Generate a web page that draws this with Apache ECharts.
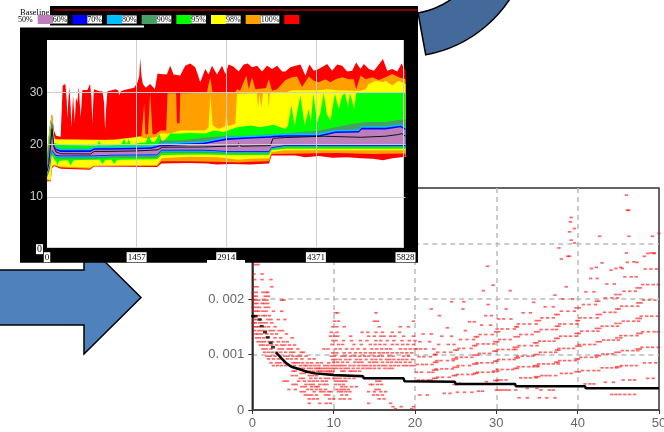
<!DOCTYPE html>
<html><head><meta charset="utf-8">
<style>html,body{margin:0;padding:0;background:#fff}#c{width:664px;height:432px}</style>
<script src="https://cdn.jsdelivr.net/npm/echarts@6/dist/echarts.min.js"></script>
</head><body><div id="c"></div>
<script>
const bandLevels=['50%','60%','70%','80%','90%','95%','98%','100%'];
const areaXTicks=['0','1457','2914','4371','5828'];
const areaYTicks=['0','10','20','30',''];
const scatterXTicks=['0','10','20','30','40','50'];
const scatterYTicks=['0','0. 001','0. 002','0. 003','0. 004'];

const up100=[[0,18.5],[49,24],[81,25.9],[114,22.7],[146,21.7],[222,21.5],[233,21.7],[255,31.3],[299,31.6],[320,28.5],[331,25],[345,28],[364,31],[385,27],[396,23.3],[423,29.4],[451,24.3],[472,29],[494,28],[516,31.1],[532,28],[548,25.2],[575,30.45],[657,30.45],[700,31.6],[722,29],[738,24],[755,29],[765,30.6],[847,30.2],[901,30.2],[928,28],[945,22.7],[961,27],[983,30.2],[1118,30.6],[1160,30.3],[1173,29.4],[1200,30.2],[1254,30.45],[1417,30.85],[1471,31.9],[1499,33],[1515,36.5],[1537,33],[1558,31.6],[1607,30.85],[1678,31.6],[1754,30.6],[1797,33.6],[1840,33.5],[1949,33.4],[2003,35.1],[2057,33.4],[2166,33.2],[2247,35.1],[2329,35.5],[2410,34.8],[2492,31.9],[2573,34.45],[2627,33.4],[2682,35.1],[2763,33.4],[2845,35.1],[2899,33.5],[2953,35.3],[3035,34.9],[3116,34],[3198,35.3],[3263,35.5],[3333,34.8],[3415,35.1],[3496,34],[3578,35.1],[3659,34.45],[3741,35.1],[3822,34],[3876,34],[3956,34.8],[4038,35.1],[4119,35.3],[4201,33.2],[4266,35.3],[4337,34.1],[4418,34.45],[4554,35.4],[4635,34.1],[4717,35.3],[4798,35.1],[4880,34],[4961,34.1],[5026,35.7],[5097,34.45],[5151,35.4],[5233,34.45],[5314,34.1],[5395,35.3],[5461,36.35],[5531,34.1],[5613,34.45],[5694,34],[5765,35.5],[5828,34.1]];
const up98=[[0,18.4],[49,23.6],[81,25.7],[114,21.8],[146,20.9],[900,20.9],[1118,21],[1417,21.4],[1499,21.6],[1537,21.6],[1580,27.9],[1600,22],[1640,22],[1678,30],[1715,22],[1760,22],[1800,22.3],[1840,22.7],[1938,22.7],[1960,29.8],[2100,29.8],[2112,24.1],[2155,24.1],[2166,29.8],[2600,29.9],[2627,31.5],[2655,32.9],[2690,29.9],[3060,30],[3090,30.6],[3140,30.3],[3241,33.2],[3279,30.6],[3333,32.9],[3388,30.6],[3560,30.8],[3605,32.5],[3659,30.3],[3741,30.6],[3876,32.35],[3984,32.9],[4065,33],[4146,31],[4255,33],[4337,32.2],[4418,31.9],[4527,32.5],[4608,31.9],[4690,32.5],[4798,32.9],[4907,32.5],[4988,32.5],[5026,30.6],[5097,33.2],[5178,32.5],[5287,32.9],[5395,32.35],[5504,32.9],[5613,33.5],[5721,32.9],[5828,32.5]];
const up95=[[0,18.2],[49,23.3],[81,25.5],[114,21],[146,20.7],[1100,20.9],[1400,21.3],[1500,21.5],[1630,21.1],[1800,21.5],[1840,22.1],[2003,22.1],[2166,22.7],[2573,22.7],[2627,23.3],[2655,29.7],[2693,23.65],[2790,23],[2899,23.5],[2915,26.5],[2940,23.5],[3062,24],[3089,29.7],[3415,29.8],[3430,27],[3455,29.8],[3485,27],[3510,29.8],[3590,29.8],[3605,27],[3620,29.8],[3876,29.9],[3984,30.4],[4418,30.4],[4554,30.6],[4717,30.4],[5026,30.3],[5097,30.3],[5178,30.6],[5233,31.6],[5341,32.2],[5461,31.9],[5504,32.2],[5613,31.3],[5721,32.2],[5828,31.6]];
const up90=[[0,17.9],[49,22.7],[81,25],[114,20.3],[146,20],[250,19.9],[700,19.85],[820,19.85],[847,20.9],[880,19.85],[1200,19.9],[1254,21.1],[1290,20],[1330,21],[1360,20],[1500,20.3],[1607,20.4],[1650,21.7],[1700,20.5],[1750,20.5],[1830,22],[1870,20.5],[1949,21.3],[2003,22.1],[2166,22.1],[2329,22.2],[2573,22.1],[2709,22.7],[2871,22.4],[3089,23.3],[3306,23.65],[3469,23.3],[3686,23.8],[3875,23],[3918,23.65],[3973,27.5],[4027,23.65],[4119,29.4],[4190,23.65],[4255,26.8],[4288,24.3],[4331,29.7],[4391,24.3],[4440,25.9],[4499,29.8],[4548,25.9],[4608,24.6],[4679,29.7],[4744,26.8],[4798,29.4],[4842,29.8],[4896,27.2],[4923,29.8],[4961,28.4],[4994,26.8],[5026,29.8],[5097,30],[5828,30]];
const up80=[[0,17.7],[49,22],[81,24.5],[114,20],[146,19.6],[222,19.2],[765,19.2],[1500,19.4],[1797,19.8],[1840,20.8],[2166,20.8],[2549,21.3],[2926,21.7],[3252,21.7],[3632,22],[3875,22.1],[4146,22.4],[4418,22.7],[4690,23.3],[4961,24],[5233,24.3],[5504,24.3],[5828,24.9]];
const up70=[[0,15.5],[49,19.6],[81,24.5],[114,20],[146,19.5],[222,19.2],[711,19.2],[765,19.6],[1037,19.6],[1471,19.7],[1700,19.8],[1797,20.1],[1840,20.25],[2166,20.45],[2546,20.65],[2573,20.9],[2926,21.5],[3252,21.7],[3632,21.9],[3686,22],[3876,22.1],[4418,22.1],[4690,22.8],[5070,22.9],[5113,23.5],[5504,23.5],[5748,23.9],[5828,23.4]];
const up60=[[0,15.2],[49,19.3],[81,24.3],[114,19.8],[146,19.2],[222,18.9],[711,18.9],[765,19.3],[1037,19.3],[1471,19.4],[1700,19.5],[1797,19.8],[1840,19.95],[2166,20.15],[2546,20.35],[2573,20.6],[2926,21.2],[3252,21.4],[3632,21.6],[3686,21.7],[3876,21.8],[4418,21.8],[4690,22.5],[5070,22.6],[5113,23.2],[5504,23.2],[5748,23.6],[5828,23.1]];
const up50=[[0,15],[49,19],[81,24],[114,19.5],[146,18.9],[222,18.6],[711,18.6],[765,19],[1037,19],[1471,19.1],[1700,19.2],[1797,19.5],[1840,19.65],[2166,19.85],[2546,20.05],[2573,20.3],[2926,20.9],[3252,21.1],[3632,21.3],[3686,21.4],[3876,21.5],[4418,21.5],[4690,22.2],[5070,22.3],[5113,22.9],[5504,22.9],[5748,23.3],[5828,22.8]];
const low50=[[0,14],[49,16],[81,19],[114,18.4],[146,18],[222,17.9],[765,17.9],[1037,18.05],[1790,18.1],[1860,19],[2546,19],[2926,18.8],[3610,18.8],[3650,19.5],[3876,19.9],[5828,19.9]];
const low60=[[0,13.9],[49,15.8],[81,18.8],[114,18.2],[146,17.8],[222,17.75],[765,17.75],[1037,17.9],[1790,17.95],[1860,18.85],[2546,18.85],[2926,18.65],[3610,18.65],[3650,19.35],[3876,19.8],[5828,19.8]];
const low70=[[0,13.8],[49,15.6],[81,18.6],[114,18],[146,17.6],[222,17.6],[765,17.6],[1037,17.75],[1790,17.8],[1860,18.7],[2546,18.7],[2926,18.5],[3610,18.5],[3650,19.2],[3876,19.7],[5828,19.7]];
const low80=[[0,13.7],[49,15.4],[81,18.4],[114,17.8],[146,17.4],[222,17.3],[765,17.3],[1037,17.5],[1790,17.5],[1860,18.4],[2546,18.4],[2926,18.3],[3610,18.3],[3650,19.1],[3876,19.5],[5828,19.5]];
const low90=[[0,13.6],[49,15.2],[81,18],[114,17.2],[146,16.8],[168,16],[200,16.9],[340,17],[385,16],[430,17],[765,17.1],[860,17.1],[901,16.3],[950,17.1],[1050,17.1],[1091,16.3],[1140,17.1],[1790,17.2],[1860,18],[2546,18.1],[2926,18],[3610,18],[3650,18.9],[3876,19.2],[5828,19.2]];
const low95=[[0,13.4],[30,13.1],[60,13.2],[81,15.9],[114,16.2],[146,16],[222,15.8],[700,15.6],[765,16],[1790,16.1],[1860,17.4],[2300,17.7],[2763,17.6],[3116,17.1],[3300,17.3],[3610,17.4],[3650,18.6],[3876,18.9],[5828,18.9]];
const low98=[[0,13.2],[30,13],[60,13.1],[81,15.7],[114,16],[146,15.8],[222,15.6],[700,15.4],[765,15.9],[1790,15.9],[1860,16.8],[2300,16.8],[2763,16.7],[3116,16.6],[3300,16.7],[3610,16.8],[3650,18.2],[4200,18.3],[4700,18.4],[5300,18.2],[5828,18.3]];
const low100=[[0,13],[30,12.9],[60,13],[81,15.5],[114,15.9],[146,15.7],[222,15.4],[700,15.2],[765,15.8],[1790,15.7],[1860,16.4],[2300,16.5],[2600,16.4],[2763,16.2],[3000,16.3],[3300,16.2],[3610,16.4],[3650,17.9],[3800,17.9],[4038,17.9],[4200,17.6],[4418,17.8],[4635,17.5],[4880,17.6],[5100,17.4],[5300,17.3],[5461,17],[5613,17.4],[5828,17.7]];
const medianLine=[[0,14.8],[30,16.4],[60,20],[81,23],[114,19.5],[146,18.6],[222,18.25],[711,18.2],[765,18.7],[1037,18.7],[1471,18.8],[1797,19],[1879,19.5],[2546,19.55],[2926,19.7],[3100,19.7],[3116,20.2],[3150,19.7],[3630,19.8],[3675,21.2],[3876,21.35],[4500,21.6],[5100,21.4],[5500,21.6],[5700,21.9],[5765,22.1],[5828,21.6]];

const meanDots=[[.1,.00169],[.4,.00169],[.9,.00163],[1.15,.00151],[1.56,.0014],[1.9,.00131],[2.26,.00121],[2.55,.00113]];
const meanSteps=[[2.9,.00104],[3.6,.00093],[4.2,.00084],[4.8,.00078],[5.9,.00073],[6.7,.00069],[7.7,.00066],[9.95,.00063],[10,.00061],[13.6,.00061],[13.7,.00057],[18.6,.00057],[18.7,.00052],[24.9,.00051],[25,.00047],[32.3,.00047],[32.4,.00043],[40.9,.00043],[41,.00039],[50,.00039]];

// each row: the ratio read for a run of dots, then the x positions of that run
const scatterRows=[
[.00262,.3,.7],[.00245,.2,1.2],[.00235,.3,1.2,2.3],[.00222,.2,.6,2.4],[.00212,.1,.5,1.3,1.7,1.9],[.00205,.2,.5,1.6,2],[.00198,.1,.4,.8,1.4,1.8,3.6,3.9],[.00192,.3,.6,1.2,1.5,1.9],[.00185,.1,.5,.9,1.6,2],[.00178,.2,.5,.8,1.3,1.7,2.6,3.6],[.0017,.1,.4,.8,1.3,1.6,2.1],[.00163,.2,.5,1,1.9,2.3,3.2,4],[.00157,.1,.4,.9,1.3,1.7,2.4],[.0015,.2,.5,.8,1.5,2,2.8],[.00143,.3,.8,1.2,1.6,2.2,2.6,3.3,3.7],[.00137,.4,.7,1.1,1.8,2.4,3,4.2],[.0013,.5,.9,1.4,1.9,2.8,3.5,4.9],[.00123,.7,1.1,1.5,2.1,2.5,3.2,3.8,4.3],[.00117,1,1.4,1.9,2.4,3,3.6,4,4.6,5.2],[.0011,1.3,1.7,2.3,3.3,3.7,4.4,4.8,5.6],[.00104,1.5,2,2.5,3,3.5,4.1,4.7,5.1,6,6.3],[.00097,1.8,2.2,2.8,4,4.4,5,5.5,5.9,6.6],[.00092,2,2.6,3.2,3.6,4.3,4.8,5.4,6.1,7,7.6],[.00085,2.3,3,3.4,4,5,5.3,5.7,6.2,6.8,7.3,8,8.5,9.4],[.0008,2.6,3.1,3.6,4.1,4.7,5.2,5.9,6.4,6.7,7.2,7.7,8.2,8.9,9.3,9.8],
[.00075,5.5,5.9,6.3,6.9,7.3,7.8,8.1,8.4,8.8,9.2,9.6,10,10.4,10.9,11.4,11.8,12.4,13,13.6,14.1,14.5,15,15.6,16.3,16.8,17.2],[.0007,5,5.3,6.6,7,7.5,8,8.3,8.6,9,9.3,9.6,9.9,11,11.3,12,12.3,12.7,13.2],[.00066,6,6.4,7.7,8.2,8.6,9,9.4,9.8],[.00062,4.9,5.4,7,7.4,7.9,10.2,10.6,11,11.4,11.8,12.2,12.6,13,13.4],[.00057,5.9,6.3,7.2,7.8,8.4,9,9.4,10,10.4,10.8,11.4,11.9,12.5,14.5,15],[.00052,3.9,4.3,5.7,6.4,7,7.5,8,8.6,9.1,10.3,10.7,11.1,11.5,15.3,15.7],[.00046,5,5.4,6.6,7.1,7.5,8.3,8.8,9.2,10.2,10.7,11.2,14.5,14.8,15.4,15.9],[.00042,6.1,6.5,7.3,7.8,8.1,11,11.5,12.2,12.8],[.00037,4.5,5.3,6.8,7.3,7.9,8.4,9,10.4,10.9,11.3,11.8,15.2,15.6],[.00033,6,6.4,7.6,8.4,8.8,9.4,9.7,10.6,11,11.5,12,14.3,15,15.8,16.4],[.00027,6.5,6.9,7.3,7.9,9,9.4,11,11.6,14.9,15.4,16],[.0002,7,7.5,8,9.5,10,10.8,11.3,12,15.6,16.2],[.00012,7,8.3,9.1,9.6,14.3,17],[.00006,17.3,18.3,19.8],[.00002,17.6,19.6],
[.0008,10.2,10.6,11,11.4,12,12.5,13.1,13.6,14,14.5,15,15.5,16,16.4,17,17.5,18,18.6,19,19.5,19.9],[.00086,10,10.5,11.1,11.7,12.6,13.1,13.5,14.4,14.9,15.3,16,16.6,17.1,17.7,18.2,18.8,19.4],[.00091,9.9,10.3,10.8,11.5,12,12.8,13.3,14,14.7,15.2,15.8,16.5,16.9,17.4,18,18.5,19,19.7],[.00097,9.7,10.1,11,11.4,12.1,12.6,13.2,13.8,14.3,15,15.5,16,16.8,17.3,18.6,19.2],[.00103,9.9,10.4,11.3,12,12.7,13.3,13.9,14.5,15,15.6,16.1,16.6,17.2,17.8,18.4,19,19.6],[.0011,8.8,9.3,10.2,10.8,11.6,12.3,13,13.8,14.7,15.3,15.9,16.5,17,18.2,18.8,19.4,20],[.00118,9.8,10.6,11.1,12.5,13.4,14.5,15.1,15.7,16.3,17.2,17.8,18.5,19.1,19.8],[.00125,9.9,10.3,11.2,12.2,13.3,14.1,15.2,15.8,16.6,17.4,18.4,19.3,20],[.00133,9.6,10.1,10.5,12.1,14.3,15,15.8,16.2,17,17.5,18.6,19.8],[.0014,9.7,10.4,13.5,14.2,15.2,16,17.2,18.1],[.0015,9.9,10.4,11.3,15.6,18.2,19.2],[.0016,10.1,10.6,15,15.4,19.8],[.00175,10.2,10.5,15.2],
[.00027,20.6,21.5],[.00054,20.4,21,21.6,22],[.00068,20.2,20.8,21.7,22.2],[.00082,20.3,20.9,21.4,22.1],[.00096,20.5,21.1,21.9],[.0011,20.2,20.7,21.3,22.3],[.00123,20.6,21.8],[.00137,21,22],
[.0003,23.6,24.3],[.00059,22.8,23.4,24.2],[.00074,22.6,23.3,23.9,24.6],[.00089,22.7,23.2,24,24.7],[.00104,22.8,23.6,24.4],[.00118,22.9,24.1,24.8],[.00133,23.3,24.5],[.00148,24],
[.00032,25.2,26.1,27],[.00048,25.5],[.00064,25.2,25.8,26.5,27.1],[.0008,25.3,25.9,26.7],[.00095,25.1,25.7,26.3,27],[.00111,25.4,26,26.9],[.00127,25.6,26.4,27.2],[.00143,26.2],[.00159,26.7,27.3],
[.00034,27.8,28.3],[.00051,28.8],[.00068,27.7,28.3,29,29.6],[.00085,27.6,28.2,28.9,29.5],[.00102,27.9,28.5,29.2],[.00119,27.7,28.4,29,29.7],[.00136,28,28.7,29.5],[.00153,28.2,29.3],[.0017,28.7,29.4],[.0019,29],
[.00036,30,30.4,30.8,31.2,31.6,32.4],[.00054,30.2,30.6,31.2],[.00073,30.1,30.7,31.4,32],[.00091,30.3,30.9,31.6,32.2],[.00109,30.2,30.8,31.5,32.1,32.4],[.00127,30.4,31,31.7],[.00146,30.1,30.7,31.4,32.2],[.00164,30.3,30.9,31.8],[.00182,31.2],
[.00039,33.8,35],[.00022,32.8,33.8],[.00058,33,33.6,34.2,34.9],[.00078,32.7,33.3,34,34.6,35.1],[.00097,32.6,33.2,33.9,34.5],[.00116,32.8,33.5,34.3,35],[.00136,33,33.7,34.4],[.00155,32.7,33.4,34.1,34.9],[.00175,33.3,34.2],[.00194,34.6],
[.00036,35.5,36.5,37],[.00022,35.3,36.2,37.2],[.00062,35.6,36.1,36.6,37.3],[.00083,35.2,35.8,36.4,37,37.6],[.00104,35.4,36,36.7,37.3],[.00124,35.3,35.9,36.5,37.1],[.00145,35.5,36.2,36.9,37.4],[.00166,35.6,36.3,37],[.00186,36,37],[.00207,37.2],
[.00066,38,38.6,39.2],[.00089,37.8,38.4,39,39.7],[.00111,37.7,38.3,38.9,39.5],[.00133,37.9,38.5,39.1,39.8],[.00155,37.8,38.4,39.2,39.9],[.00178,38,38.8,39.6],[.002,38.2,39.4],[.00222,38.6],
[.00047,40.9,41.5,42],[.00071,40.6,41.3,42,42.6],[.00095,40.4,41,41.7,42.3],[.00118,40.2,40.8,41.5,42.1],[.00142,40.5,41.2,41.9,42.5],[.00166,40.3,40.9,41.6,42.4],[.0019,40.7,41.4,42.2],[.00213,41,42],[.00237,41.6,42.4],
[.00028,44.2,44.7,45.2],[.0005,43.4,44.4],[.00076,43,43.6,44.2,44.8],[.00101,43.1,43.7,44.3],[.00126,43.2,43.8,44.4,45],[.00151,43,43.6,44.3,44.9],[.00176,43.3,44,44.6],[.00202,43.4,44.2,44.9],[.00227,43.6,44.5],[.00252,44.1],
[.00028,45.8,46.4,47],[.00054,45.6,46.4,47],[.0008,45.4,46,46.6,47.2],[.00107,45.5,46.1,46.8,47.4],[.00134,45.3,45.9,46.6,47.3],[.0016,45.6,46.2,46.9,47.5],[.00187,45.4,46,46.7,47.4],[.00214,45.7,46.4,47.1],[.0024,45.8,46.6,47.2],[.00266,46.1,47.3],
[.00057,48.6,49.3],[.00085,48.2,48.9,49.6],[.00113,47.9,48.6,49.2,49.9],[.00141,48,48.7,49.4,49.9],[.00169,47.8,48.5,49.1,49.8],[.00198,48.1,48.8,49.5],[.00226,48,48.6,49.3,49.9],[.00254,48.3,49,49.7],[.00282,48.6,49.4],
[.00387,46],[.0036,46.1,46.3],[.00313,46.3,42.7,49.2],[.00318,50],[.00347,39.2],[.00339,39.1],[.00321,39],[.00327,39.6],[.00306,39.2],[.00301,39.6],[.00292,37.7],[.00283,46,49,49.4],[.00272,38],[.00277,38.8,39,48.2],[.00267,46.9],[.00265,43],[.00257,42.3,45.3],[.00255,41.7,44.7,45.5],[.00259,28.9],[.00225,29.6],[.00215,28.4,31.7],[.00195,24.5,26],[.00182,22,25.9],[.0017,23],
[.00057,22.3,22.6],[.00072,22.3,22.7],[.00086,22.4,22.7],[.001,22.4,22.6],
[.00046,24.8,25.1],[.00062,24.7,25],[.00077,24.8,25.2],[.00092,24.7,25.1],[.00108,24.9,25.2],
[.00066,27.3,27.6],[.00083,27.2,27.6],[.00099,27.3,27.7],[.00116,27.2,27.5],[.00132,27.4,27.7],
[.00053,29.8,30.1],[.0007,29.7,30.2],[.00088,29.8,30.1],[.00106,29.7,30],[.00123,29.8,30.2],[.00141,29.9,30.3],
[.00075,32.3,32.6],[.00094,32.4,32.7],[.00113,32.2,32.6],[.00132,32.3,32.7],[.0015,32.4,32.6],
[.0006,34.8,35.2],[.0008,34.7,35.1],[.001,34.8,35.2],[.00121,34.7,35],[.00141,34.8,35.2],[.00161,34.9,35.3],
[.00086,37.3,37.6],[.00108,37.4,37.7],[.00129,37.3,37.6],[.00151,37.4,37.7],[.00172,37.3,37.6],
[.00069,39.8,40.2],[.00092,39.8,40.1],[.00115,39.9,40.3],[.00138,39.8,40.2],[.00161,39.9,40.1],[.00184,39.8,40.2],
[.00098,42.3,42.7],[.00123,42.4,42.8],[.00147,42.3,42.7],[.00172,42.4,42.8],[.00196,42.3,42.6],
[.00078,44.8,45.2],[.00104,44.7,45.1],[.0013,44.8,45.3],[.00156,44.7,45.2],[.00182,44.8,45.1],[.00208,44.7,45.2],
[.0011,47.3,47.7],[.00138,47.4,47.8],[.00165,47.3,47.7],[.00193,47.4,47.8],[.0022,47.3,47.7]
];
const scatterDots=scatterRows.flatMap(r=>r.slice(1).map(x=>[x,r[0]]));

const bandColors={'50%':'#BC7FBC','60%':'#0000FF','70%':'#00BFFF','80%':'#46A064','90%':'#00FF00','95%':'#FFFF00','98%':'#FFA000','100%':'#FF0000'};
const paintOrder=[['100%',up100],['98%',up98],['95%',up95],['90%',up90],['80%',up80],['70%',up70],['60%',up60],['50%',up50],['60%',low50],['70%',low60],['80%',low70],['90%',low80],['95%',low90],['98%',low95],['100%',low98],['floor',low100]];
const bandSeries=paintOrder.map(([name,data],i)=>{
  const c=name==='floor'?'#fff':bandColors[name];
  return {type:'line',name,data,xAxisIndex:0,yAxisIndex:0,z:10+i,color:c,showSymbol:false,symbol:'none',silent:true,animation:false,
    lineStyle:{width:0},itemStyle:{color:c},areaStyle:{color:c,opacity:1}};
});
const serif='"Liberation Serif","DejaVu Serif",serif';
const chart=echarts.init(document.getElementById('c'),null,{renderer:'canvas'});
chart.setOption({
  animation:false,backgroundColor:'#fff',
  legend:{show:true,z:60,left:18,top:15,align:'right',icon:'rect',itemWidth:15,itemHeight:9,itemGap:0,selectedMode:false,padding:0,
    data:bandLevels,textStyle:{color:'#000',backgroundColor:'#fff',fontFamily:serif,fontSize:8}},
  grid:[
    {left:47,right:258.5,top:40,bottom:182.8,outerBoundsMode:'none'},
    {left:252.3,right:5,top:188,bottom:22,outerBoundsMode:'none',show:true,borderColor:'#333',borderWidth:1.5,backgroundColor:'#fff'}
  ],
  xAxis:[
    {gridIndex:0,type:'value',min:0,max:5828,interval:1457,z:40,
      axisLine:{show:false},axisTick:{show:false},
      axisLabel:{margin:3,color:'#000',backgroundColor:'#fff',fontFamily:serif,fontSize:9,hideOverlap:false,showMinLabel:true,showMaxLabel:true,padding:[1,1,0,1],formatter:(v)=>areaXTicks[Math.round(v/1457)]},
      splitLine:{show:true,showMinLine:false,showMaxLine:false,lineStyle:{color:'#cfcfcf',width:1}}},
    {gridIndex:1,type:'value',min:0,max:50,interval:10,z:1,
      axisLine:{show:true,onZero:false,lineStyle:{color:'#444',width:1.5}},axisTick:{show:true,length:4,lineStyle:{color:'#333'}},
      axisLabel:{margin:7,color:'#666',fontFamily:'"Liberation Sans",sans-serif',fontSize:13,hideOverlap:false,showMaxLabel:true,formatter:(v)=>scatterXTicks[v/10]},
      splitLine:{show:true,showMinLine:false,showMaxLine:false,lineStyle:{color:'#bbb',width:1.5,type:[5,4]}}}
  ],
  yAxis:[
    {gridIndex:0,type:'value',min:0,max:40,interval:10,z:40,
      axisLine:{show:false},axisTick:{show:false},
      axisLabel:{margin:4,color:'#ccc',fontFamily:'"Liberation Sans",sans-serif',fontSize:12,
        formatter:(v)=>v===0?'{z|0}':areaYTicks[v/10],
        rich:{z:{color:'#000',backgroundColor:'#fff',fontFamily:serif,fontSize:10,padding:[0,1,0,1]}}},
      splitLine:{show:true,showMinLine:false,showMaxLine:false,lineStyle:{color:'#cfcfcf',width:1}}},
    {gridIndex:1,type:'value',min:0,max:.004,interval:.001,z:1,
      axisLine:{show:true,onZero:false,lineStyle:{color:'#222',width:1.5}},axisTick:{show:true,length:4,lineStyle:{color:'#333'}},
      axisLabel:{margin:8,color:'#666',fontFamily:'"Liberation Sans",sans-serif',fontSize:13,formatter:(v)=>scatterYTicks[Math.round(v*1000)]},
      splitLine:{show:true,showMinLine:false,showMaxLine:false,lineStyle:{color:'#bbb',width:1.5,type:[5,4]}}}
  ],
  graphic:{elements:[
    {type:'polygon',z:4,silent:true,shape:{points:[[-5,270],[84,270],[84,241],[141,297.5],[84,354],[84,325],[-5,325]]},style:{fill:'#4F81BD',stroke:'#000',lineWidth:1.5}},
    {type:'sector',z:4,silent:true,shape:{cx:402.7,cy:-71.1,r0:85.5,r:128,startAngle:0.35,endAngle:1.39,clockwise:true},style:{fill:'#44699B',stroke:'#000',lineWidth:1.5}},
    {type:'rect',z:5,silent:true,shape:{x:50,y:6,width:368,height:8},style:{fill:'#000'}},
    {type:'rect',z:5,silent:true,shape:{x:20,y:27,width:398,height:235.7},style:{fill:'#000'}},
    {type:'rect',z:5,silent:true,shape:{x:50,y:14,width:368,height:13},style:{fill:'#000'}},
    {type:'rect',z:5,silent:true,shape:{x:20,y:25.5,width:124,height:2},style:{fill:'#fff'}},
    {type:'rect',z:5,silent:true,shape:{x:207,y:260,width:38,height:4},style:{fill:'#fff'}},
    {type:'rect',z:5,silent:true,shape:{x:54,y:9,width:364,height:2},style:{fill:'#7B0000'}},
    {type:'text',z:5,silent:true,x:20,y:8,style:{text:'Baseline',fill:'#000',font:'8.5px '+serif}},
    {type:'rect',z:6,silent:true,shape:{x:47,y:40,width:356,height:207.5},style:{fill:'#fff'}},
    {type:'rect',z:27,silent:true,shape:{x:404,y:157,width:3,height:91},style:{fill:'#000'}},
    {type:'rect',z:45,silent:true,shape:{x:47,y:247.8,width:360,height:2.2},style:{fill:'#000'}},
    {type:'line',z:46,silent:true,shape:{x1:47,y1:247.5,x2:403.5,y2:247.5},style:{stroke:'#cfcfcf',lineWidth:1}},
    {type:'line',z:46,silent:true,shape:{x1:403.5,y1:40,x2:403.5,y2:247.5},style:{stroke:'#cfcfcf',lineWidth:1}}
  ]},
  series:[
    {type:'scatter',name:'ratio',xAxisIndex:1,yAxisIndex:1,z:2,data:scatterDots,symbol:'rect',symbolSize:[3.4,1.7],itemStyle:{color:'rgba(255,0,0,0.75)'},silent:true,large:false},
    {type:'scatter',name:'mean start',xAxisIndex:1,yAxisIndex:1,z:3,data:meanDots,symbol:'rect',symbolSize:[4,2.5],itemStyle:{color:'#000'},silent:true},
    {type:'line',name:'mean',xAxisIndex:1,yAxisIndex:1,z:3,data:meanSteps,symbol:'none',showSymbol:false,lineStyle:{color:'#000',width:2.5},silent:true},
    ...bandSeries,
    {type:'line',name:'median',xAxisIndex:0,yAxisIndex:0,z:30,data:medianLine,symbol:'none',showSymbol:false,lineStyle:{color:'#111',width:1},silent:true}
  ]
});
</script></body></html>
